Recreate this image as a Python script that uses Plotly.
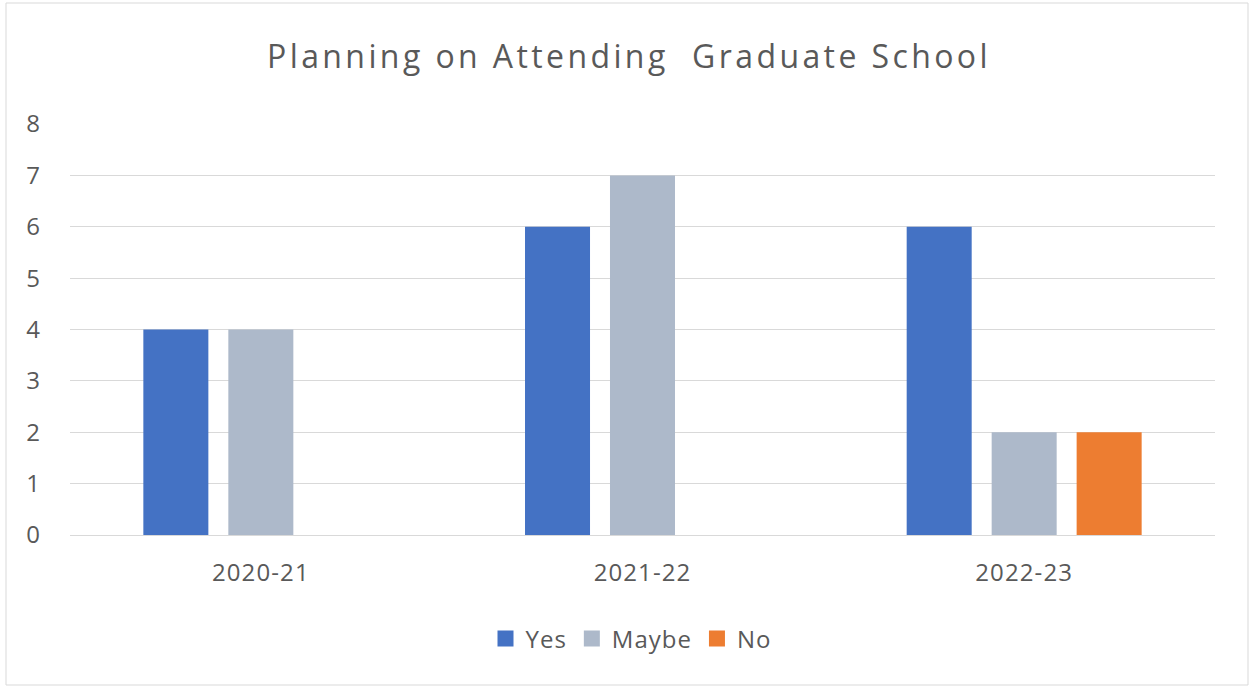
import plotly.graph_objects as go

# Survey responses by academic year
years = ["2020-21", "2021-22", "2022-23"]
series_names = ["Yes", "Maybe", "No"]
yes_counts = [4, 6, 6]
maybe_counts = [4, 7, 2]
no_counts = [0, 0, 2]
y_ticks = [0, 1, 2, 3, 4, 5, 6, 7, 8]
title_text = "Planning on Attending  Graduate School"

W, H = 1251, 686
ML, MR, MT, MB = 70, 36, 124, 151
PW, PH = W - ML - MR, H - MT - MB

FONT = "Open Sans"
TEXT = "#595959"
GRID = "#D9D9D9"
COLORS = ["#4472C4", "#ADB9CA", "#ED7D31"]


def spaced(s, px):
    return f'<span style="letter-spacing:{px}px">{s}</span>'


fig = go.Figure()
for name, vals, col in zip(series_names, [yes_counts, maybe_counts, no_counts], COLORS):
    fig.add_trace(go.Bar(name=name, x=years, y=vals, showlegend=False,
                         marker=dict(color=col, line_width=0)))
# Legend keys drawn as square markers so they can be sized
for name, col in zip(series_names, COLORS):
    fig.add_trace(go.Scatter(name=spaced(name, 1.0), x=[None], y=[None], mode="markers",
                             marker=dict(symbol="square", size=16, color=col),
                             showlegend=True, hoverinfo="skip"))


def px_x(px):
    return (px - ML) / PW


def px_y(py):
    return (H - MB - py) / PH


fig.update_layout(
    width=W,
    height=H,
    margin=dict(l=ML, r=MR, t=MT, b=MB, pad=0),
    paper_bgcolor="white",
    plot_bgcolor="white",
    barmode="group",
    bargap=0.332,
    bargroupgap=0.235,
    font=dict(family=FONT, color=TEXT, size=24),
    title=dict(
        text=spaced(title_text, 3.4),
        font=dict(family=FONT, size=32, color=TEXT),
        x=629 / W,
        xanchor="center",
        xref="container",
        y=1 - 57 / H,
        yanchor="middle",
    ),
    legend=dict(
        orientation="h",
        x=px_x(631),
        xanchor="center",
        y=px_y(639),
        yanchor="middle",
        font=dict(family=FONT, size=24, color=TEXT),
        traceorder="normal",
    ),
    showlegend=True,
    shapes=[
        dict(
            type="rect",
            xref="paper",
            yref="paper",
            x0=px_x(6),
            x1=px_x(1248),
            y0=px_y(685),
            y1=px_y(3),
            line=dict(color=GRID, width=1),
            fillcolor="rgba(0,0,0,0)",
            layer="below",
        )
    ],
)

fig.update_xaxes(
    showgrid=False,
    showline=False,
    zeroline=False,
    ticks="",
    tickmode="array",
    tickvals=years,
    ticktext=[spaced(y, 1.1) for y in years],
    tickfont=dict(family=FONT, size=24, color=TEXT),
    ticklabelstandoff=21,
)
fig.update_yaxes(
    range=[0, 8],
    tickvals=y_ticks,
    showgrid=True,
    gridcolor=GRID,
    gridwidth=1,
    zeroline=True,
    zerolinecolor=GRID,
    zerolinewidth=1,
    showline=False,
    ticks="",
    tickfont=dict(family=FONT, size=24, color=TEXT),
    ticklabelstandoff=29,
)

fig.write_html("out.html")
